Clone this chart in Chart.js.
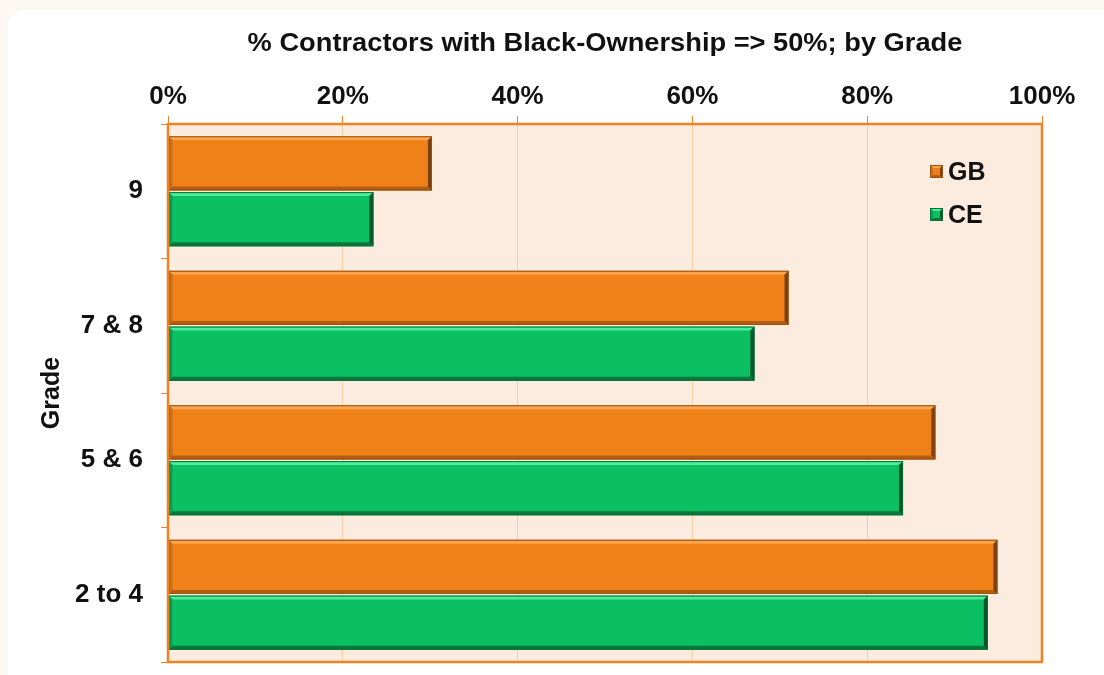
<!DOCTYPE html>
<html>
<head>
<meta charset="utf-8">
<script src="https://cdn.jsdelivr.net/npm/chart.js@4.4.1/dist/chart.umd.min.js"></script>
<style>
  html, body { margin: 0; padding: 0; background: #fdf8f1; width: 1104px; height: 675px; overflow: hidden; }
  #panel { position: absolute; left: 8px; top: 10px; width: 1120px; height: 700px; background: #ffffff; border-radius: 16px; }
  #wrap { position: absolute; left: 0; top: 0; width: 1104px; height: 675px; }
</style>
</head>
<body>
<div id="panel"></div>
<div id="wrap"><canvas id="c" width="1104" height="675"></canvas></div>
<script>
const titleText = '% Contractors with Black-Ownership => 50%; by Grade';
const categories = ['9', '7 & 8', '5 & 6', '2 to 4'];
const seriesNames = ['GB', 'CE'];
const gbValues = [30.2, 71.0, 87.8, 94.9];
const ceValues = [23.5, 67.1, 84.1, 93.8];
const xTicks = [0, 20, 40, 60, 80, 100];
const yAxisTitle = 'Grade';

const FONT = '"Liberation Sans", Arial, sans-serif';
const palette = {
  GB: { main: '#f08119', top: '#f8a64e', bottom: '#b35d12', right: '#7a3f0c', left: '#c96c17', edge: '#9a5010' },
  CE: { main: '#0bc063', top: '#4ceb98', bottom: '#09773c', right: '#06522a', left: '#0a9b50', edge: '#077035' }
};

function bevelRect(ctx, l, t, r, b, d, c) {
  ctx.save();
  ctx.fillStyle = c.main;
  ctx.fillRect(l, t, r - l, b - t);
  const poly = (pts, col) => {
    ctx.beginPath();
    ctx.moveTo(pts[0][0], pts[0][1]);
    for (let i = 1; i < pts.length; i++) ctx.lineTo(pts[i][0], pts[i][1]);
    ctx.closePath();
    ctx.fillStyle = col;
    ctx.fill();
  };
  poly([[l, t], [r, t], [r - d, t + d], [l + d, t + d]], c.top);
  poly([[l, b], [r, b], [r - d, b - d], [l + d, b - d]], c.bottom);
  poly([[l, t], [l, b], [l + d, b - d], [l + d, t + d]], c.left);
  poly([[r, t], [r, b], [r - d, b - d], [r - d, t + d]], c.right);
  ctx.strokeStyle = c.edge;
  ctx.lineWidth = 1;
  ctx.strokeRect(l + 0.5, t + 0.5, r - l - 1, b - t - 1);
  ctx.restore();
}

const plotBg = {
  id: 'plotBg',
  beforeDraw(chart) {
    const { ctx, chartArea: a } = chart;
    ctx.save();
    ctx.fillStyle = '#fcebdf';
    ctx.fillRect(a.left, a.top, a.right - a.left, a.bottom - a.top);
    ctx.restore();
  },
  afterDraw(chart) {
    const { ctx, chartArea: a } = chart;
    ctx.save();
    ctx.strokeStyle = '#ee8326';
    ctx.lineWidth = 2.5;
    ctx.strokeRect(a.left, a.top, a.right - a.left, a.bottom - a.top);
    // title centred over the plot area, slightly wide like the original
    const cx = (a.left + a.right) / 2;
    ctx.translate(cx, 44);
    ctx.scale(1.09, 1);
    ctx.font = 'bold 25px ' + FONT;
    ctx.fillStyle = '#111';
    ctx.textAlign = 'center';
    ctx.textBaseline = 'middle';
    ctx.fillText(titleText, 0, 0);
    ctx.restore();
  }
};

const bevelBars = {
  id: 'bevelBars',
  afterDatasetsDraw(chart) {
    const ctx = chart.ctx;
    chart.data.datasets.forEach((ds, i) => {
      const meta = chart.getDatasetMeta(i);
      const c = palette[ds.label];
      meta.data.forEach(el => {
        const p = el.getProps(['x', 'y', 'base', 'height'], true);
        const l = Math.min(p.base, p.x), r = Math.max(p.base, p.x);
        const t = p.y - p.height / 2, b = p.y + p.height / 2;
        bevelRect(ctx, l, t, r, b, 4, c);
      });
    });
  }
};

const insideLegend = {
  id: 'insideLegend',
  afterDraw(chart) {
    const { ctx, chartArea: a } = chart;
    ctx.save();
    ctx.font = 'bold 25px ' + FONT;
    ctx.textBaseline = 'middle';
    ctx.textAlign = 'left';
    chart.data.datasets.forEach((ds, i) => {
      const cy = a.top + 48 + i * 43;
      const x0 = a.right - 112;
      bevelRect(ctx, x0, cy - 7, x0 + 13, cy + 6, 3, palette[ds.label]);
      ctx.fillStyle = '#111';
      ctx.fillText(ds.label, x0 + 18, cy + 1);
    });
    ctx.restore();
  }
};

new Chart(document.getElementById('c'), {
  type: 'bar',
  data: {
    labels: categories,
    datasets: [
      { label: seriesNames[0], data: gbValues, backgroundColor: 'rgba(0,0,0,0)', borderWidth: 0 },
      { label: seriesNames[1], data: ceValues, backgroundColor: 'rgba(0,0,0,0)', borderWidth: 0 }
    ]
  },
  options: {
    indexAxis: 'y',
    responsive: false,
    animation: false,
    devicePixelRatio: 1,
    categoryPercentage: 0.83,
    barPercentage: 0.97,
    layout: { padding: { left: 0, right: 62, top: 58, bottom: 13 } },
    plugins: {
      legend: { display: false },
      tooltip: { enabled: false },
      title: { display: false }
    },
    scales: {
      x: {
        position: 'top',
        min: 0,
        max: 100,
        afterFit(scale) { scale.height = 66; scale.paddingLeft = 0; scale.paddingRight = 0; },
        afterBuildTicks(scale) { scale.ticks = xTicks.map(v => ({ value: v })); },
        ticks: {
          color: '#111',
          font: { family: FONT, size: 26, weight: 'bold' },
          padding: 4,
          callback: v => v + '%'
        },
        grid: { color: '#f7cda7', lineWidth: 1, tickColor: '#ee8326', tickLength: 8 },
        border: { display: false }
      },
      y: {
        afterFit(scale) { scale.width = 168; scale.paddingTop = 0; scale.paddingBottom = 0; },
        ticks: {
          color: '#111',
          font: { family: FONT, size: 26, weight: 'bold' },
          padding: 18
        },
        grid: { drawOnChartArea: false, tickColor: '#ee8326', tickLength: 7, lineWidth: 1 },
        border: { display: false },
        title: {
          display: true,
          text: yAxisTitle,
          color: '#111',
          font: { family: FONT, size: 25, weight: 'bold' },
          padding: { top: 37, bottom: 0 }
        }
      }
    }
  },
  plugins: [plotBg, bevelBars, insideLegend]
});
</script>
</body>
</html>
